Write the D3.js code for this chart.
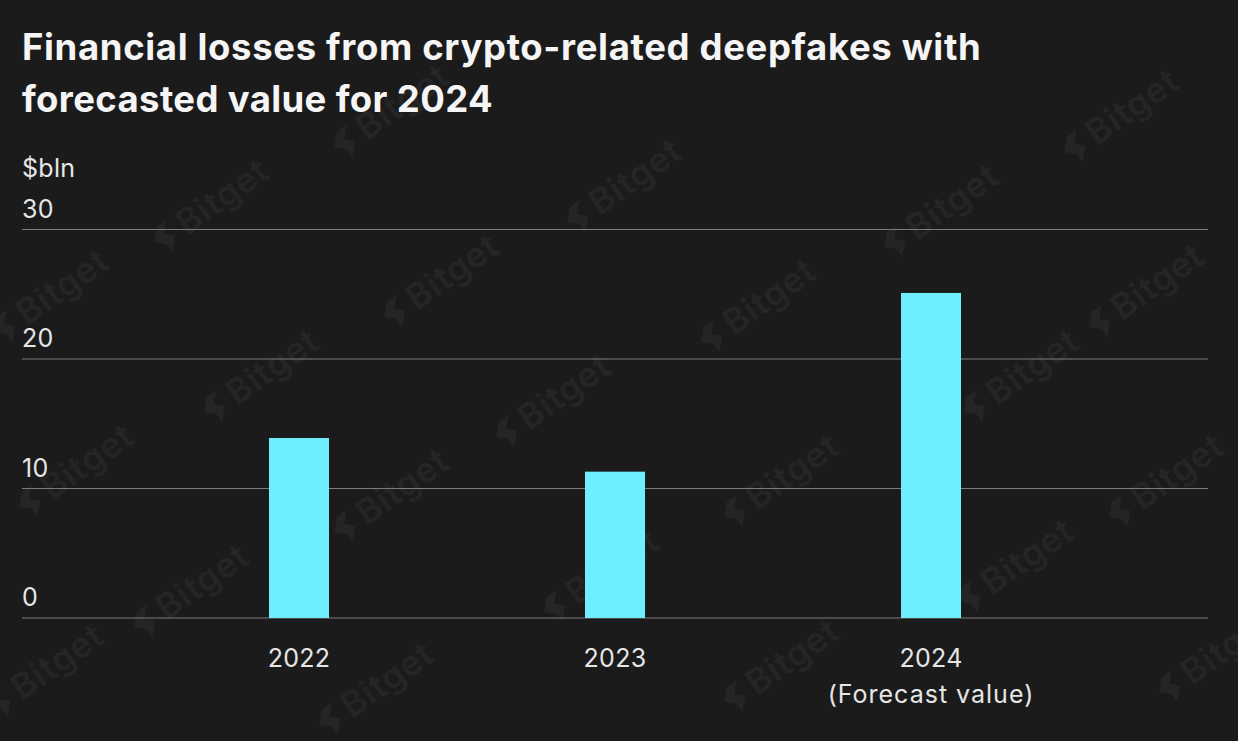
<!DOCTYPE html>
<html><head><meta charset="utf-8">
<script src="https://cdn.jsdelivr.net/npm/d3@7"></script>
<style>html,body{margin:0;padding:0;background:#1b1b1b;overflow:hidden}</style>
</head><body><svg id="c" width="1238" height="741"></svg>
<script>
const categories = ["2022","2023","2024"];
const categorySub = ["","","(Forecast value)"];
const values = [13.9,11.3,25.1];
const yTicks = [0,10,20,30];
const titleLines = ["Financial losses from crypto-related deepfakes with","forecasted value for 2024"];
const unit = "$bln";
const F = "Inter, 'Open Sans', sans-serif";
const svg = d3.select("#c");
svg.append("rect").attr("width",1238).attr("height",741).attr("fill","#1b1b1b");
const y = d3.scaleLinear().domain([0,30]).range([618,229.5]);
const x = d3.scalePoint().domain(categories).range([299,931]);
// faint background stamp
const stampAnchors = [[335,150],[1065,155],[155,245],[568,225],[885,250],[-5,335],[385,320],[702,345],[1090,330],[205,415],[497,440],[965,415],[20,510],[335,535],[725,520],[1110,520],[135,630],[545,615],[960,605],[-10,710],[320,728],[725,705],[1160,695]];
const wm = svg.append("g").attr("aria-hidden","true");
stampAnchors.forEach(d=>{
  const g = wm.append("g").attr("transform",`translate(${d[0]},${d[1]}) rotate(-35)`);
  g.append("path").attr("d","M2,-4 L12,-14 L24,-14 L14,-4 L22,4 L10,16 L10,6 L2,-2Z").attr("fill","#252525");
  g.append("text").attr("x",31).attr("y",11).attr("font-family",F).attr("font-size",35).attr("font-weight",600).attr("letter-spacing",0.8).attr("fill","#252525").text("Bitget");
});
svg.append("g").selectAll("line").data(yTicks).join("line")
 .attr("x1",22).attr("x2",1208).attr("y1",d=>y(d)).attr("y2",d=>y(d))
 .attr("stroke","#7c7c7c").attr("stroke-width",1);
const tickStyle = s => s.attr("font-family",F).attr("font-size",25).attr("letter-spacing",0.3).attr("fill","#e6e6e6");
svg.append("g").selectAll("text").data(yTicks).join("text")
 .attr("x",22).attr("y",d=>y(d)-12).call(tickStyle).text(d=>d);
svg.append("g").selectAll("rect").data(values).join("rect")
 .attr("x",(d,i)=>x(categories[i])-30).attr("width",60)
 .attr("y",d=>y(d)).attr("height",d=>y(0)-y(d)).attr("fill","#6eeeff");
svg.append("g").selectAll("text").data(categories).join("text")
 .attr("x",d=>x(d)).attr("y",667).attr("text-anchor","middle").call(tickStyle).text(d=>d);
svg.append("g").selectAll("text").data(categorySub).join("text")
 .attr("x",(d,i)=>x(categories[i])).attr("y",703).attr("text-anchor","middle").call(tickStyle).attr("letter-spacing",1).text(d=>d);
svg.append("text").attr("x",22).attr("y",177).call(tickStyle).text(unit);
svg.append("g").selectAll("text").data(titleLines).join("text")
 .attr("x",22).attr("y",(d,i)=>60+i*52).attr("font-family",F).attr("font-size",36.5).attr("font-weight",700)
 .attr("letter-spacing",(d,i)=>i?0.37:0.65).attr("fill","#f5f5f5").text(d=>d);
</script></body></html>
